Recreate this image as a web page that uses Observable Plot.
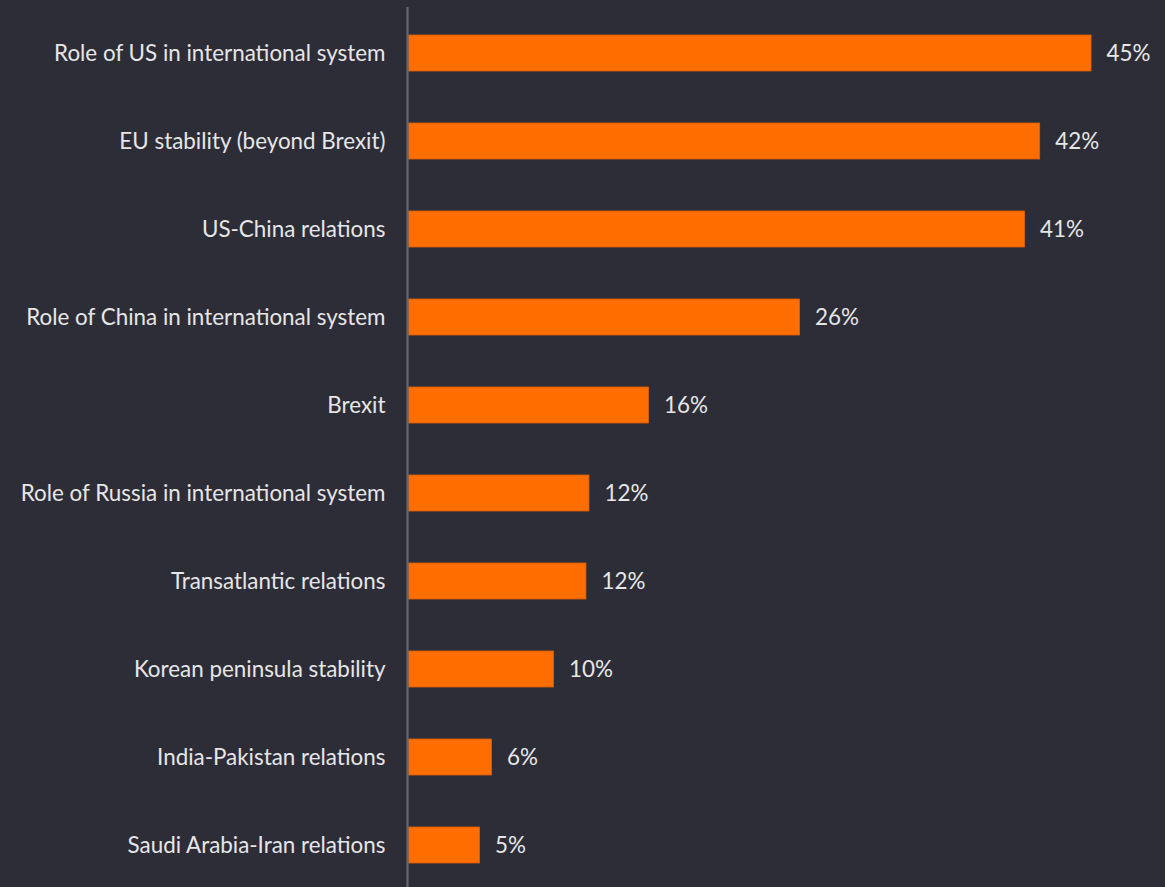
<!DOCTYPE html>
<html>
<head>
<meta charset="utf-8">
<script src="https://cdn.jsdelivr.net/npm/d3@7"></script>
<script src="https://cdn.jsdelivr.net/npm/@observablehq/plot@0.6"></script>
<style>
  html, body { margin: 0; padding: 0; background: #2d2d38; overflow: hidden; }
</style>
</head>
<body>
<div id="chart"></div>
<script>
const categories = [
  "Role of US in international system",
  "EU stability (beyond Brexit)",
  "US-China relations",
  "Role of China in international system",
  "Brexit",
  "Role of Russia in international system",
  "Transatlantic relations",
  "Korean peninsula stability",
  "India-Pakistan relations",
  "Saudi Arabia-Iran relations"
];
const values = [45.3, 41.9, 40.9, 26.0, 16.0, 12.05, 11.85, 9.7, 5.6, 4.8];
const valueLabels = ["45%", "42%", "41%", "26%", "16%", "12%", "12%", "10%", "6%", "5%"];

const data = categories.map((c, i) => ({ category: c, value: values[i], label: valueLabels[i] }));

const chart = Plot.plot({
  width: 1165,
  height: 887,
  marginLeft: 407,
  marginRight: 3,
  marginTop: 7,
  marginBottom: 0,
  style: { background: "#2d2d38", color: "#e6e6e6", fontFamily: "Lato, sans-serif", fontSize: "22.4px" },
  x: { domain: [0, 50], axis: null },
  y: { domain: categories, range: [5.7, 892.3], paddingInner: 0.594, paddingOuter: 0.297, label: null, tickSize: 0, tickPadding: 22 },
  marks: [
    Plot.barX(data, { x: "value", y: "category", fill: "#ff6d00", stroke: "#d9600a", strokeWidth: 0.8, insetLeft: 1.5 }),
    Plot.ruleX([0], { stroke: "#676773", strokeWidth: 2.2 }),
    Plot.text(data, { x: "value", y: "category", text: "label", textAnchor: "start", dx: 15, fill: "#e6e6e6", fontSize: 22.4 })
  ]
});
document.getElementById("chart").appendChild(chart);
</script>
</body>
</html>
